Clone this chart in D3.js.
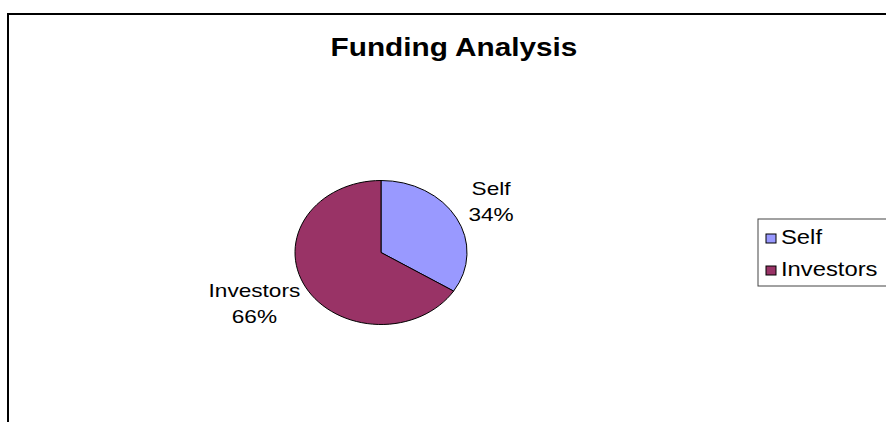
<!DOCTYPE html>
<html>
<head>
<meta charset="utf-8">
<script src="https://cdn.jsdelivr.net/npm/d3@7"></script>
<style>
  html, body { margin: 0; padding: 0; background: #fff; }
  svg { display: block; }
  text { font-family: "Liberation Sans", Arial, sans-serif; fill: #000; }
</style>
</head>
<body>
<svg id="chart" width="886" height="422"></svg>
<script>
const title = "Funding Analysis";
const categories = ["Self", "Investors"];
const values = [34, 66];
const colors = ["#9999FF", "#993366"];

const W = 886, H = 422;
const sx = 1.19; // horizontal stretch of the original picture
const svg = d3.select("#chart");

// chart border (extends beyond the visible area on right and bottom)
svg.append("rect")
  .attr("x", 8).attr("y", 14)
  .attr("width", 1000).attr("height", 600)
  .attr("fill", "#fff").attr("stroke", "#000").attr("stroke-width", 2);

// title
svg.append("text")
  .attr("transform", `translate(454,56) scale(${sx},1)`)
  .attr("text-anchor", "middle")
  .attr("font-weight", "bold")
  .attr("font-size", 25)
  .text(title);

// pie
const cx = 381, cy = 252.5, ry = 72, rx = 86;
const pie = d3.pie().sort(null).value(d => d)(values);
const arc = d3.arc().innerRadius(0).outerRadius(ry);
const g = svg.append("g").attr("transform", `translate(${cx},${cy}) scale(${rx / ry},1)`);
g.selectAll("path").data(pie).join("path")
  .attr("d", arc)
  .attr("fill", (d, i) => colors[i])
  .attr("stroke", "#000")
  .attr("stroke-width", 1)
  .attr("vector-effect", "non-scaling-stroke");

// data labels, positioned from the slice angle
const total = d3.sum(values);
const labelR = [1.46, 1.68];
const labelDy = [-1, -8];
pie.forEach((d, i) => {
  const a = (d.startAngle + d.endAngle) / 2;
  const lx = cx + Math.sin(a) * rx * labelR[i];
  const ly = cy - Math.cos(a) * ry * labelR[i];
  const pct = Math.round(values[i] / total * 100) + "%";
  const t = svg.append("g").attr("transform", `translate(${lx},${ly}) scale(${sx},1)`);
  t.append("text").attr("text-anchor", "middle").attr("font-size", 19)
    .attr("y", labelDy[i] - 6).text(categories[i]);
  t.append("text").attr("text-anchor", "middle").attr("font-size", 19)
    .attr("y", labelDy[i] + 20.5).text(pct);
});

// legend
const lg = svg.append("g").attr("transform", "translate(758,219)");
lg.append("rect").attr("x", 0).attr("y", 0).attr("width", 200).attr("height", 67)
  .attr("fill", "#fff").attr("stroke", "#444").attr("stroke-width", 1);
categories.forEach((c, i) => {
  const y = 15 + i * 32;
  lg.append("rect").attr("x", 8).attr("y", y).attr("width", 10).attr("height", 9)
    .attr("fill", colors[i]).attr("stroke", "#000").attr("stroke-width", 1);
  lg.append("text").attr("transform", `translate(23,${y + 9.5}) scale(${sx},1)`)
    .attr("font-size", 20).text(c);
});
</script>
</body>
</html>
